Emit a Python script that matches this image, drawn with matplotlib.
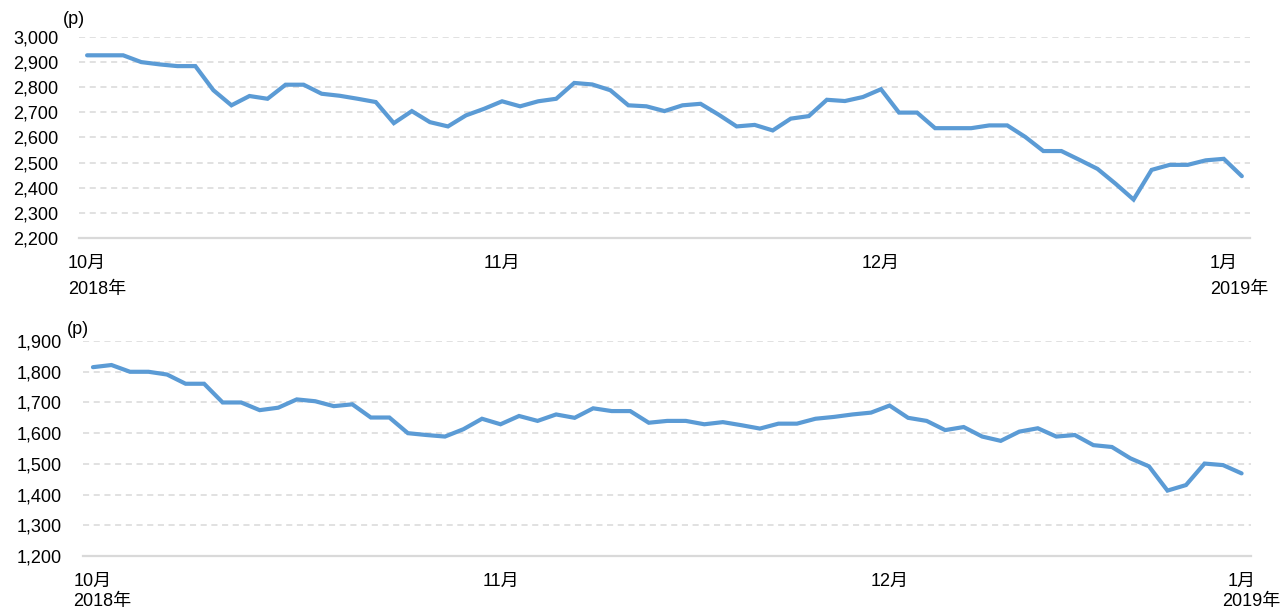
import matplotlib
matplotlib.use("Agg")
import matplotlib.pyplot as plt
from matplotlib.ticker import FuncFormatter

plt.rcParams['font.family'] = ['Liberation Sans', 'Noto Sans CJK JP']

# top chart: daily close (p), 2018/10 - 2019/1
top_prices = [2927, 2927, 2927, 2900, 2891, 2884, 2884, 2788, 2728, 2765,
              2754, 2810, 2810, 2774, 2766, 2754, 2741, 2657, 2705, 2661,
              2644, 2688, 2714, 2744, 2724, 2744, 2754, 2817, 2811, 2788,
              2728, 2724, 2705, 2728, 2734, 2691, 2644, 2650, 2628, 2675,
              2685, 2750, 2745, 2761, 2792, 2699, 2699, 2637, 2637, 2637,
              2648, 2648, 2602, 2546, 2546, 2511, 2475, 2416, 2353, 2471,
              2491, 2491, 2509, 2515, 2446]
top_month_pos = [0, 23, 44, 63]

# bottom chart
bottom_prices = [1815, 1822, 1800, 1800, 1791, 1761, 1761, 1700, 1700, 1675,
                 1683, 1710, 1704, 1688, 1694, 1651, 1651, 1600, 1594, 1589,
                 1613, 1647, 1629, 1656, 1640, 1661, 1650, 1681, 1672, 1672,
                 1634, 1640, 1640, 1629, 1636, 1626, 1615, 1631, 1631, 1647,
                 1653, 1661, 1667, 1690, 1650, 1640, 1610, 1620, 1589, 1575,
                 1605, 1616, 1589, 1594, 1561, 1555, 1518, 1492, 1413, 1431,
                 1501, 1496, 1469]
bottom_month_pos = [0, 22, 43, 62]

month_labels = ['10月', '11月', '12月', '1月']
year_labels = ['2018年', '2019年']

LINE = '#5B9BD5'
GRID = '#d9d9d9'
FS = 13


def draw(ax, prices, month_pos, ylim, xlim, year_dy, last_dx):
    ax.plot(range(len(prices)), prices, color=LINE, lw=3.0,
            solid_joinstyle='miter', solid_capstyle='round', zorder=3)
    ax.set_ylim(*ylim)
    ax.set_xlim(*xlim)
    ax.set_yticks(range(ylim[0], ylim[1] + 1, 100))
    ax.yaxis.set_major_formatter(FuncFormatter(lambda v, p: f'{int(v):,}'))
    for v in range(ylim[0] + 100, ylim[1] + 1, 100):
        ax.axhline(v, color=GRID, lw=1.1, dashes=(4, 3), zorder=1)
    ax.set_xticks(month_pos)
    ax.set_xticklabels(month_labels)
    for s in ['top', 'right', 'left']:
        ax.spines[s].set_visible(False)
    ax.spines['bottom'].set_color(GRID)
    ax.spines['bottom'].set_linewidth(1.6)
    ax.tick_params(axis='both', length=0, labelsize=FS, colors='#000000')
    ax.tick_params(axis='y', pad=15)
    ax.tick_params(axis='x', pad=12)
    # year labels under first and last month
    ax.annotate(year_labels[0], xy=(month_pos[0], 0), xycoords=('data', 'axes fraction'),
                xytext=(-14, year_dy), textcoords='offset points',
                ha='left', va='center', fontsize=FS)
    ax.annotate(year_labels[1], xy=(month_pos[-1], 0), xycoords=('data', 'axes fraction'),
                xytext=(last_dx, year_dy), textcoords='offset points',
                ha='left', va='center', fontsize=FS)


fig = plt.figure(figsize=(12.82, 6.14), dpi=100)

ax1 = fig.add_axes([0.0616, 0.6124, 0.9134, 0.3274])
draw(ax1, top_prices, top_month_pos, (2200, 3000), (-0.45, 64.45), -37, -10)
ax1.text(63 / 1282, 1 - 20 / 614, '(p)', transform=fig.transFigure,
         ha='left', va='center', fontsize=FS)

ax2 = fig.add_axes([0.0647, 0.0945, 0.911, 0.350])
draw(ax2, bottom_prices, bottom_month_pos, (1200, 1900), (-0.54, 62.5), -33, -14)
ax2.text(67 / 1282, 1 - 329 / 614, '(p)', transform=fig.transFigure,
         ha='left', va='center', fontsize=FS)

fig.savefig('out.png', dpi=100)
